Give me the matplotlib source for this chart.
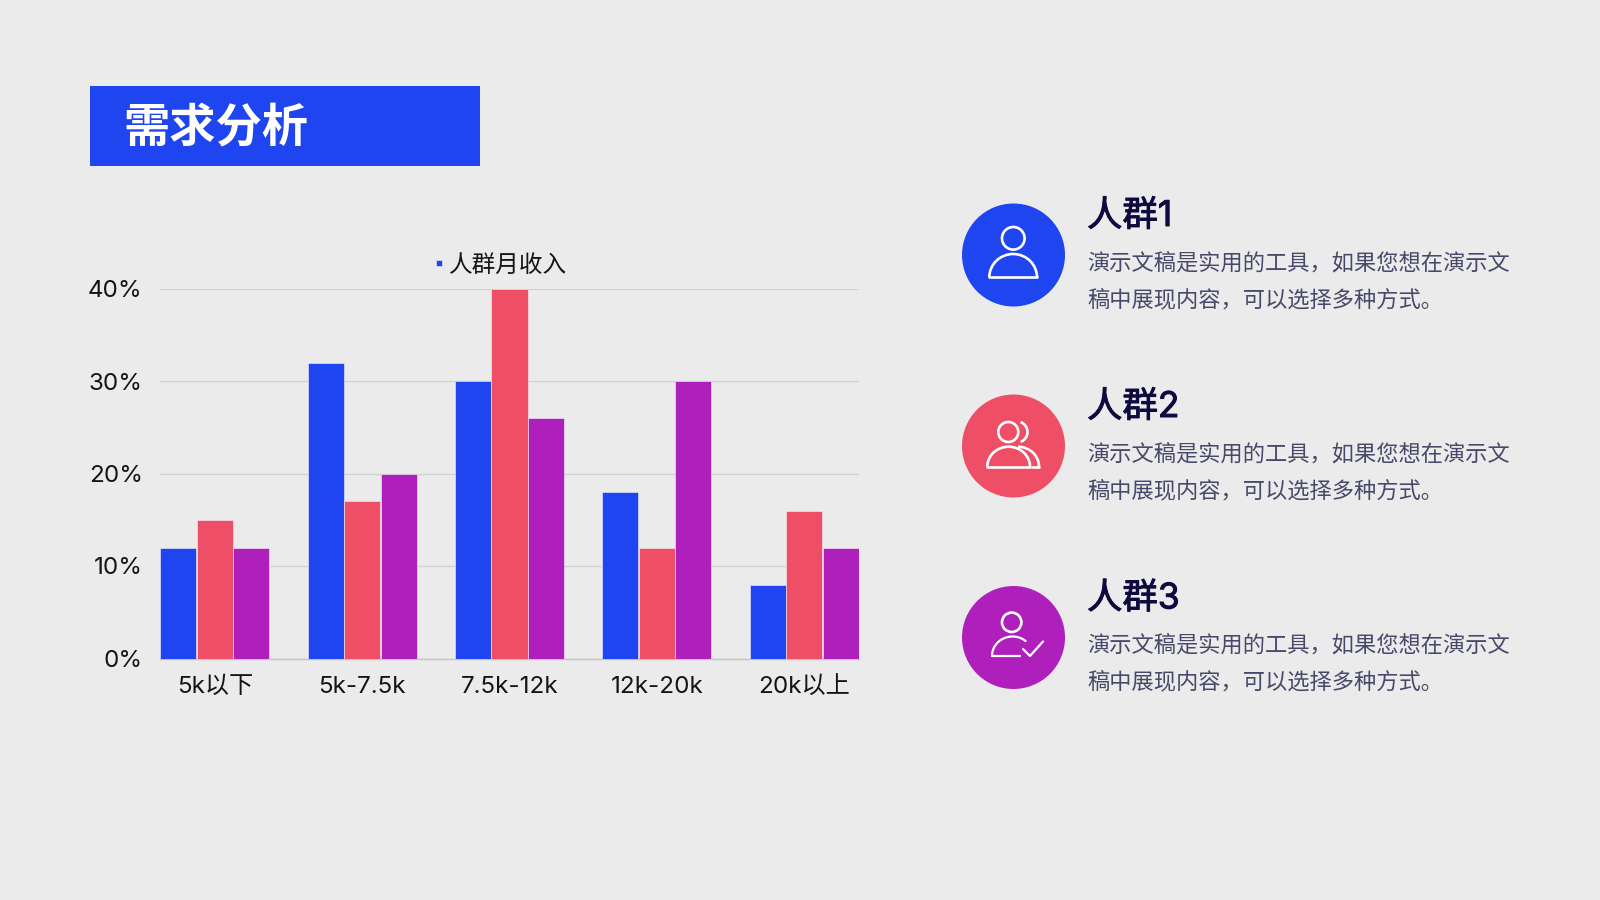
import matplotlib
matplotlib.use("Agg")
import matplotlib.pyplot as plt
import matplotlib.patheffects as pe
from matplotlib.patches import Rectangle, Circle, Arc
import numpy as np

plt.rcParams['font.family'] = ['Inter', 'Noto Sans CJK SC', 'DejaVu Sans']

categories = ['5k以下', '5k-7.5k', '7.5k-12k', '12k-20k', '20k以上']
group1 = [12, 32, 30, 18, 8]
group2 = [15, 17, 40, 12, 16]
group3 = [12, 20, 26, 30, 12]
yticks = [0, 10, 20, 30, 40]
legend_label = '人群月收入'
title = '需求分析'
names = ['人群1', '人群2', '人群3']
body1 = '演示文稿是实用的工具，如果您想在演示文'
body2 = '稿中展现内容，可以选择多种方式。'

BG = '#EBEBEB'
BLUE = '#1F45F0'
RED = '#EE4F66'
PURPLE = '#AE1FBC'
colors = [BLUE, RED, PURPLE]
W, H = 1600, 900

fig = plt.figure(figsize=(16, 9), dpi=100, facecolor=BG)

# Chart axes
L, R, T, B = 160, 859, 288.5, 658.5
ax = fig.add_axes([L / W, 1 - B / H, (R - L) / W, (B - T) / H], facecolor='none')
x = np.arange(len(categories))
bw = 0.248
for i, (vals, c) in enumerate(zip([group1, group2, group3], colors)):
    ax.bar(x + (i - 1) * bw, vals, width=bw - 0.003, color=c, edgecolor='#F4F4F8',
           linewidth=0.4, zorder=3, label=legend_label if i == 0 else None)
ax.set_xlim(-0.372, 4.372)
ax.set_ylim(0, 40)
ax.set_xticks(x, categories)
ax.set_yticks(yticks, [f'{v}%' for v in yticks])
ax.tick_params(axis='x', length=0, labelsize=17.4, labelcolor='#141414', pad=12.5)
ax.tick_params(axis='y', length=0, labelsize=17.4, labelcolor='#141414', pad=12.5)
ax.grid(axis='y', color='#D2D2D2', linewidth=1, zorder=0)
for s in ['top', 'left', 'right']:
    ax.spines[s].set_visible(False)
ax.spines['bottom'].set_color('#C4C4C4')
ax.spines['bottom'].set_linewidth(1)
leg = ax.legend(loc='center', bbox_to_anchor=((501.5 - L) / (R - L), 1 + (288.5 - 266) / (B - T)),
                frameon=False, fontsize=17, handlelength=0.25, handleheight=0.0,
                handletextpad=0.3, borderpad=0, labelcolor='#141414')

# Overlay axes in pixel coordinates for the slide decoration
ov = fig.add_axes([0, 0, 1, 1], facecolor='none')
ov.set_xlim(0, W)
ov.set_ylim(H, 0)
ov.axis('off')
ov.add_patch(Rectangle((90, 85.5), 390, 80, facecolor=BLUE, edgecolor='none'))
ov.text(123, 128, title, color='white', fontsize=33.3, fontweight='bold',
        family=['Noto Sans CJK SC'], va='center', ha='left')

centers = [255, 446, 637.5]
for cy, c, name in zip(centers, colors, names):
    ov.add_patch(Circle((1013.5, cy), 51.5, facecolor=c, edgecolor='none'))
    ov.text(1087, cy - 38.5, name, color='#0E0A40', fontsize=25.5,
            va='center', ha='left',
            path_effects=[pe.withStroke(linewidth=0.7, foreground='#0E0A40')])
    ov.text(1087, cy + 7.5, body1, color='#48486A', fontsize=16, va='center', ha='left')
    ov.text(1087, cy + 44, body2, color='#48486A', fontsize=16, va='center', ha='left')

st = dict(color='white', lw=1.9, solid_capstyle='round')
def ring(cx, cy, r):
    ov.add_patch(Circle((cx, cy), r, fill=False, ec='white', lw=1.9))
def dome(x0, x1, base, top, t1=180, t2=360):
    ov.add_patch(Arc(((x0 + x1) / 2, base), x1 - x0, 2 * (base - top), theta1=t1, theta2=t2,
                     ec='white', lw=1.9))

# Icon 1
ring(1013.3, 238.3, 11.3)
dome(989.3, 1037, 277.3, 254)
ov.plot([989.3, 1037], [277.3, 277.3], **st)
# Icon 2
ring(1008.3, 432, 10)
ov.add_patch(Arc((1017, 432), 21, 21, theta1=-70, theta2=70, ec='white', lw=1.9))
dome(987.3, 1030, 466.7, 446.7)
ov.plot([987.3, 1030], [466.7, 466.7], **st)
ov.add_patch(Arc((1018, 466.7), 42, 40, theta1=270, theta2=360, ec='white', lw=1.9))
ov.plot([1032, 1039], [466.7, 466.7], **st)
# Icon 3
ring(1011.7, 622.3, 9.7)
t = np.linspace(np.pi, 1.72 * np.pi, 40)
ov.plot(1012.5 + 20.5 * np.cos(t), 656 + 19.5 * np.sin(t), **{**st, 'lw': 1.6})
ov.plot([992, 1020], [656, 656], **{**st, 'lw': 1.6})
ov.plot([1023, 1030, 1043], [649, 656, 641.5], **{**st, 'lw': 1.6})

fig.savefig('out.png', dpi=100, facecolor=BG)
